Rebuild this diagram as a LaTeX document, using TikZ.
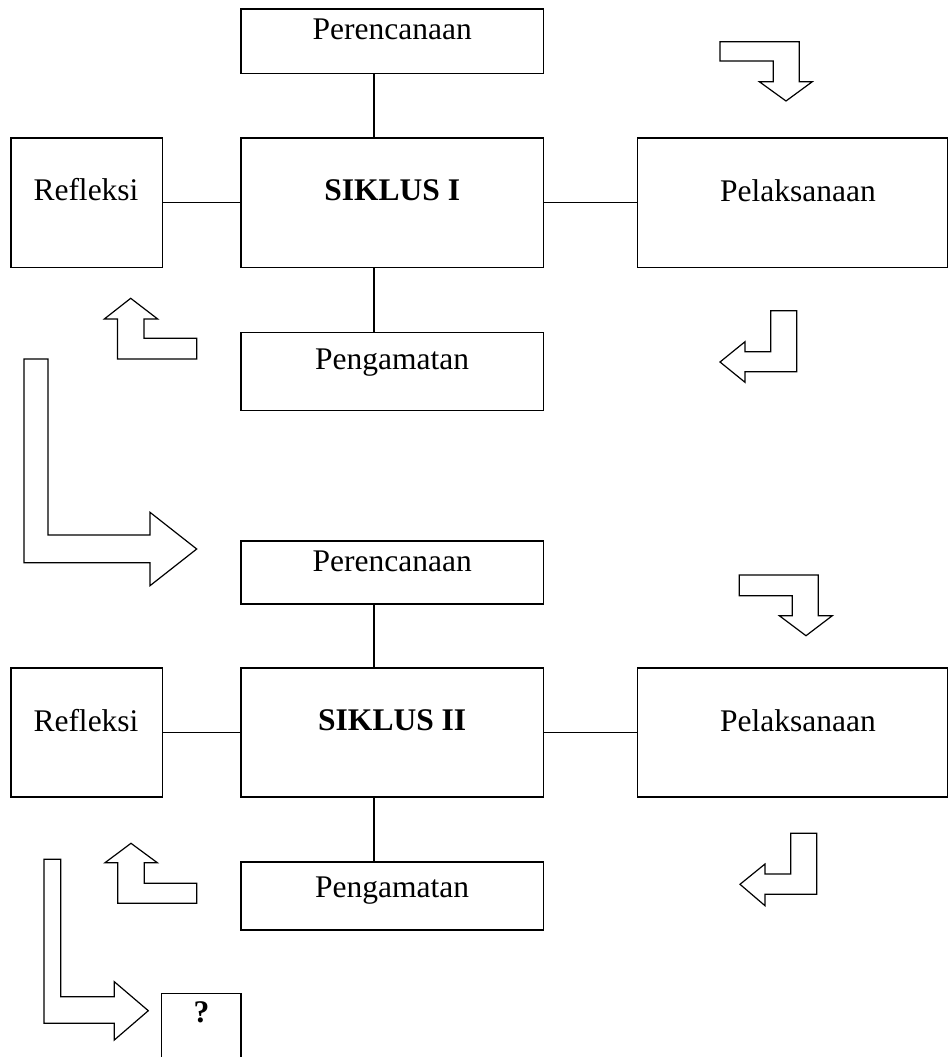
\documentclass[tikz,border=0pt]{standalone}
\usepackage{fontspec}
\setmainfont{Liberation Serif}
\begin{document}
\begin{tikzpicture}[x=1pt,y=-1pt,
  box/.style={draw,line width=1.2pt,inner sep=0pt,anchor=center},
  lbl/.style={inner sep=0pt,font=\fontsize{31.5}{36}\selectfont},
  blbl/.style={inner sep=0pt,font=\fontsize{31.5}{36}\selectfont\bfseries},
  link/.style={line width=1.2pt},
  bent/.style={draw,line width=1.2pt,line join=miter}]
\useasboundingbox (0,0) rectangle (949,1057);
% ---------- cycle I ----------
\node[box,minimum width=302.3pt,minimum height=64.3pt] (P1) at (392.2,41.2) {};
\node[box,minimum width=302.3pt,minimum height=129.5pt] (S1) at (392.2,202.8) {};
\node[box,minimum width=151.3pt,minimum height=129.5pt] (R1) at (86.7,202.8) {};
\node[box,minimum width=309.8pt,minimum height=129.5pt] (L1) at (792.6,202.8) {};
\node[box,minimum width=302.3pt,minimum height=78pt] (G1) at (392.2,371.7) {};
\node[lbl] (P1t) at (392.2,29) {Perencanaan};
\node[blbl] (S1t) at (392.2,190.5) {SIKLUS I};
\node[lbl] (R1t) at (86,190) {Refleksi};
\node[lbl] (L1t) at (798,190.5) {Pelaksanaan};
\node[lbl] (G1t) at (392.2,362.7) {Pengamatan};
\draw[link] ([xshift=-18.2pt]P1.south) -- ([xshift=-18.2pt]S1.north);
\draw[link] ([xshift=-18.2pt]G1.north) -- ([xshift=-18.2pt]S1.south);
\draw[link] (R1.east) -- (S1.west);
\draw[link] (S1.east) -- (L1.west);
% ---------- cycle II ----------
\node[box,minimum width=302.3pt,minimum height=63pt] (P2) at (392.2,572.5) {};
\node[box,minimum width=302.3pt,minimum height=129pt] (S2) at (392.2,732.5) {};
\node[box,minimum width=151.3pt,minimum height=129pt] (R2) at (86.7,732.5) {};
\node[box,minimum width=309.8pt,minimum height=129pt] (L2) at (792.6,732.5) {};
\node[box,minimum width=302.3pt,minimum height=68pt] (G2) at (392.2,896) {};
\node[lbl] (P2t) at (392.2,561) {Perencanaan};
\node[blbl] (S2t) at (392.2,720.3) {SIKLUS II};
\node[lbl] (R2t) at (86,720.3) {Refleksi};
\node[lbl] (L2t) at (798,720.3) {Pelaksanaan};
\node[lbl] (G2t) at (392.2,891) {Pengamatan};
\draw[link] ([xshift=-18.2pt]P2.south) -- ([xshift=-18.2pt]S2.north);
\draw[link] ([xshift=-18.2pt]G2.north) -- ([xshift=-18.2pt]S2.south);
\draw[link] (R2.east) -- (S2.west);
\draw[link] (S2.east) -- (L2.west);
% ---------- question box ----------
\node[box,minimum width=79.3pt,minimum height=90pt] (Q) at (201.35,1038.3) {};
\node[blbl] (Qt) at (201.5,1012.3) {?};
% ---------- bent block arrows ----------
\draw[bent] (720,41.7) -- (799.3,41.7) -- (799.3,81.7) -- (812.3,81.7) -- (786,101) -- (759.3,81.7) -- (773.3,81.7) -- (773.3,61) -- (720,61) -- cycle;
\draw[bent] (770.7,310.7) -- (796.7,310.7) -- (796.7,371.7) -- (745,371.7) -- (745,382.3) -- (720,362) -- (745,341.7) -- (745,351.7) -- (770.7,351.7) -- cycle;
\draw[bent] (130.7,298.3) -- (157.7,319) -- (144,319) -- (144,338.3) -- (196.7,338.3) -- (196.7,359) -- (117.5,359) -- (117.5,319) -- (104.3,319) -- cycle;
\draw[bent] (24,359) -- (48,359) -- (48,535) -- (150,535) -- (150,512.3) -- (196.7,549) -- (150,585.7) -- (150,562.7) -- (24,562.7) -- cycle;
\draw[bent] (739.3,575) -- (818.3,575) -- (818.3,615.7) -- (832.3,615.7) -- (806,635.7) -- (779.3,615.7) -- (792.3,615.7) -- (792.3,595.7) -- (739.3,595.7) -- cycle;
\draw[bent] (790.7,833.3) -- (816.7,833.3) -- (816.7,894.3) -- (765,894.3) -- (765,905.7) -- (740,884.3) -- (765,864) -- (765,874) -- (790.7,874) -- cycle;
\draw[bent] (131,843.3) -- (157.3,862.7) -- (144.3,862.7) -- (144.3,883.3) -- (196.7,883.3) -- (196.7,903.3) -- (117.7,903.3) -- (117.7,862.7) -- (105,862.7) -- cycle;
\draw[bent] (44,859.3) -- (60.7,859.3) -- (60.7,996.7) -- (114.3,996.7) -- (114.3,981.7) -- (148.3,1010.7) -- (114.3,1040) -- (114.3,1023.3) -- (44,1023.3) -- cycle;
\end{tikzpicture}
\end{document}
